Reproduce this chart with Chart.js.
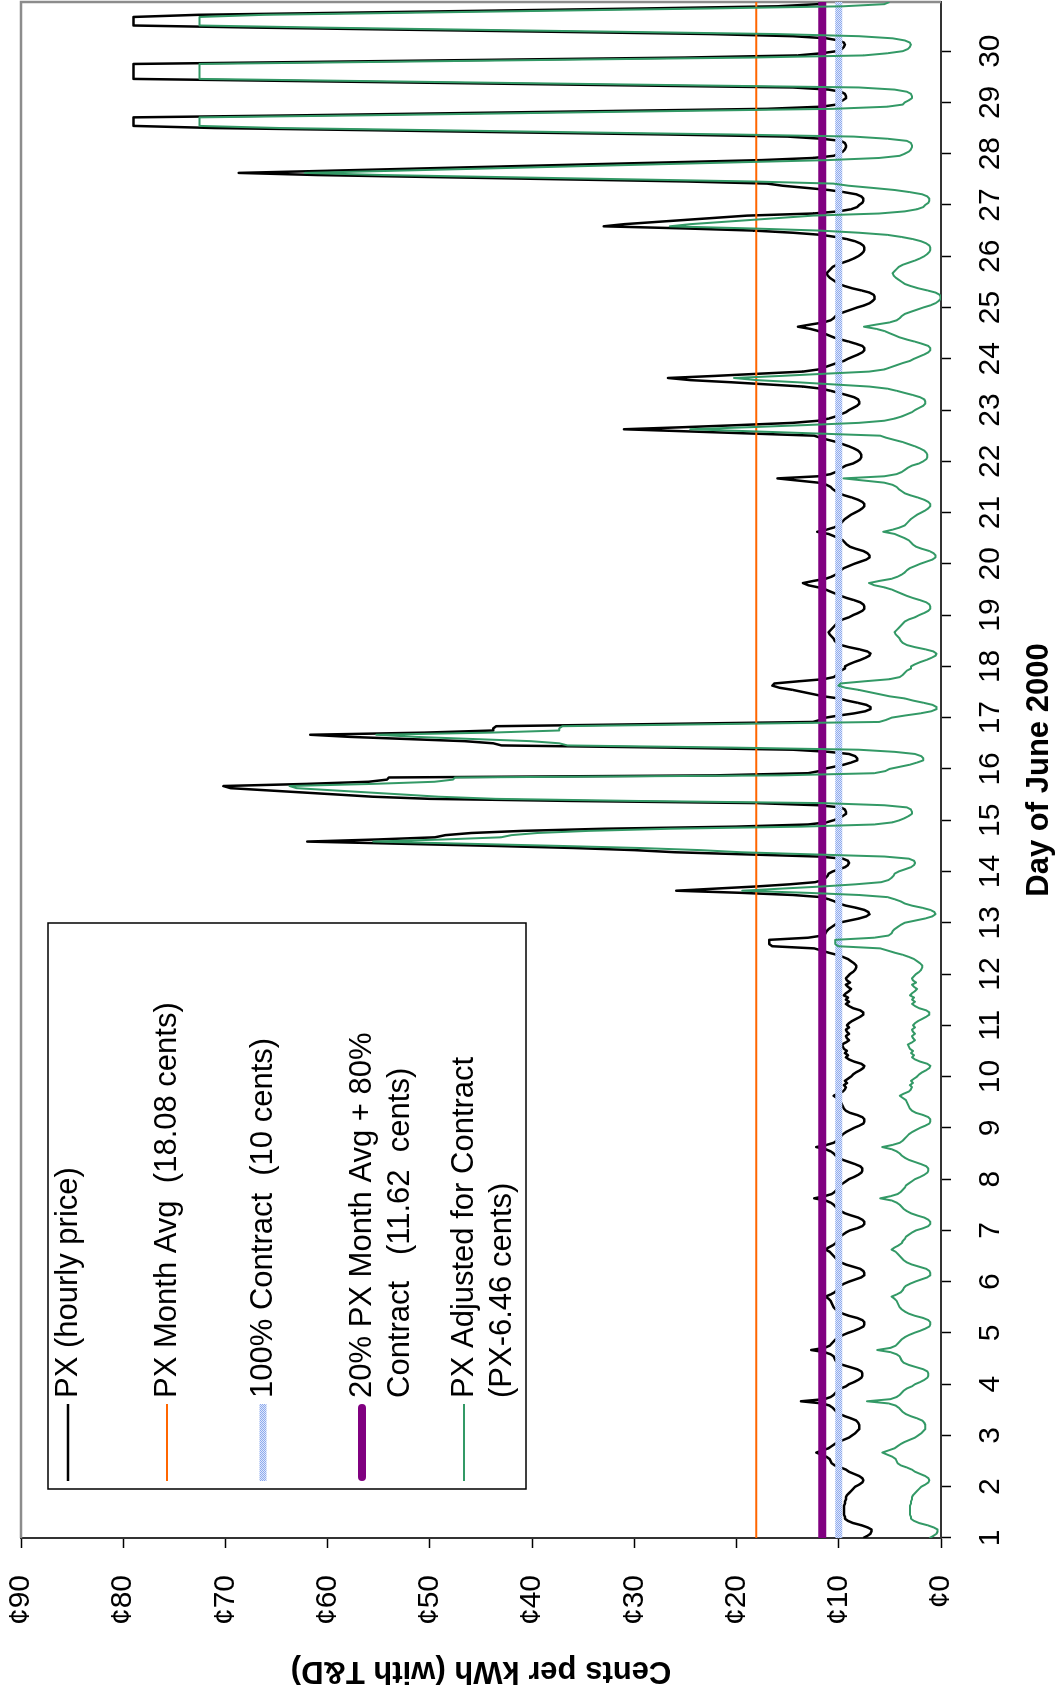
<!DOCTYPE html>
<html><head><meta charset="utf-8">
<script src="https://cdn.jsdelivr.net/npm/chart.js@4.4.1/dist/chart.umd.min.js"></script>
<style>
html,body{margin:0;padding:0;background:#fff;overflow:hidden;width:1060px;height:1695px;}
#wrap{position:absolute;left:0;top:0;width:1695px;height:1060px;transform-origin:0 0;transform:rotate(-90deg) translate(-1695px,0);background:#fff;}
canvas{display:block;}
</style></head><body>
<div id="wrap"><canvas id="c" width="1695" height="1060"></canvas></div>
<script>
// ---- data ----
const dayLabels = ['1','2','3','4','5','6','7','8','9','10','11','12','13','14','15','16','17','18','19','20','21','22','23','24','25','26','27','28','29','30'];
const dayTicks = [1,2,3,4,5,6,7,8,9,10,11,12,13,14,15,16,17,18,19,20,21,22,23,24,25,26,27,28,29,30];
const centTicks = [0,10,20,30,40,50,60,70,80,90];
const monthAvg = 18.08;
const contract100 = 10;
const blend2080 = 11.62;
const seriesNames = ['PX (hourly price)','PX Month Avg  (18.08 cents)','100% Contract  (10 cents)','20% PX Month Avg + 80%|Contract   (11.62  cents)','PX Adjusted for Contract|(PX-6.46 cents)'];

// PX hourly price (cents/kWh with T&D), 24 values per day, June 1..30
const pxHourly = [
7.6,7.2,6.9,6.8,6.8,7.2,7.8,8.6,9.1,9.4,9.4,9.5,9.5,9.5,9.5,9.5,9.4,9.4,9.3,9.3,9.2,9.0,8.8,8.6,
8.4,8.0,7.7,7.6,7.7,8.0,8.5,9.0,9.3,9.8,10.4,10.7,10.8,10.9,11.2,11.7,12.2,11.6,11.0,10.7,10.4,10.0,9.5,9.0,
8.7,8.4,8.2,8.0,8.0,8.0,8.1,8.3,8.8,9.4,9.9,10.2,10.4,10.6,10.9,11.6,13.7,11.4,10.8,10.5,10.3,10.1,9.8,9.3,
9.0,8.5,8.1,7.8,7.7,7.7,7.8,8.2,8.9,9.6,10.1,10.3,10.4,10.5,10.8,11.4,12.7,11.4,10.9,10.7,10.5,10.3,10.0,9.6,
9.1,8.5,8.0,7.6,7.5,7.5,7.7,8.2,9.0,9.6,10.0,10.3,10.5,10.6,10.7,10.8,11.0,11.3,10.8,10.4,10.2,10.1,9.9,9.5,
9.0,8.4,7.8,7.5,7.5,7.6,7.9,8.6,9.3,9.8,10.1,10.3,10.5,10.7,10.9,11.3,11.0,10.6,10.3,10.2,10.0,9.9,9.6,9.3,
8.9,8.2,7.7,7.5,7.5,7.7,8.1,8.8,9.4,9.8,10.1,10.3,10.5,10.8,11.3,12.4,11.4,10.7,10.4,10.2,10.0,9.9,9.6,9.3,
9.0,8.5,8.1,7.8,7.7,7.7,7.9,8.4,9.0,9.6,10.0,10.3,10.5,10.8,11.3,12.2,11.2,10.5,10.2,10.0,9.8,9.6,9.3,8.9,
8.5,8.0,7.6,7.5,7.5,7.7,8.2,8.9,9.3,9.5,9.6,9.7,9.8,9.9,10.2,10.5,10.1,9.6,9.4,9.3,9.5,9.2,9.4,9.1,
8.8,8.6,8.3,7.9,7.6,7.5,7.8,8.5,9.0,9.3,9.1,9.4,9.2,9.5,9.6,9.7,9.3,9.0,9.2,9.3,9.0,9.2,9.3,9.0,
9.2,9.0,8.7,8.3,7.9,7.6,7.6,7.9,8.6,9.0,9.3,9.0,9.3,9.1,9.5,9.3,9.0,8.8,9.1,9.3,8.9,9.2,9.3,9.1,
8.9,8.6,8.4,8.3,8.3,8.5,8.8,9.1,9.6,10.2,11.0,11.7,12.4,16.5,16.8,16.8,16.8,13.0,11.6,11.3,11.2,11.0,10.7,10.4,
10.0,9.0,8.0,7.3,7.0,7.1,7.5,8.3,9.3,10.0,10.4,11.0,11.7,14.5,19.5,25.9,22.0,18.0,14.8,12.3,11.6,11.3,11.1,11.0,
10.6,10.0,9.4,9.1,9.0,9.1,9.6,12.0,19.0,26.0,30.0,36.0,44.0,53.0,62.0,55.0,49.5,48.5,46.0,41.0,33.0,20.0,13.0,11.2,
10.5,10.0,9.6,9.3,9.3,9.4,9.8,12.0,18.0,36.0,50.0,55.6,59.0,62.5,66.0,69.5,70.2,62.0,56.0,54.2,54.0,22.0,13.0,11.9,
11.5,10.5,9.5,8.8,8.2,8.2,8.4,9.0,11.0,14.5,27.0,43.0,43.8,46.6,52.2,57.8,61.7,50.5,43.8,43.8,43.5,28.0,12.5,11.8,
11.3,10.0,8.5,7.4,6.9,6.9,7.3,8.2,9.2,10.0,11.5,12.5,13.5,14.5,15.8,16.5,16.3,14.0,11.5,10.5,10.2,10.0,9.8,9.4,
9.4,9.0,8.5,7.9,7.4,7.0,6.9,7.2,8.0,9.0,9.8,10.2,10.4,10.5,10.7,10.9,11.0,10.8,10.6,10.4,10.2,10.0,9.6,9.0,
8.6,8.1,7.7,7.5,7.5,7.6,7.9,8.5,9.2,9.8,10.3,10.8,11.3,12.0,13.0,13.5,12.5,11.3,10.7,10.3,10.0,9.8,9.5,9.0,
8.5,7.9,7.3,7.0,7.0,7.2,7.6,8.3,8.9,9.2,9.4,9.6,10.0,10.5,11.0,12.1,11.2,10.5,10.0,9.8,9.6,9.4,9.1,8.8,
8.4,8.0,7.7,7.5,7.5,7.7,8.1,8.7,9.4,10.0,10.3,10.6,10.8,11.2,12.0,14.0,16.0,12.0,10.8,10.3,10.0,9.7,9.3,8.6,
8.2,7.9,7.8,7.8,7.9,8.1,8.5,9.0,9.6,10.2,11.0,11.8,12.4,18.5,24.7,31.0,25.0,19.5,14.5,12.0,11.0,10.3,9.8,9.3,
9.0,8.6,8.2,8.0,8.0,8.1,8.5,9.2,10.0,10.8,11.7,13.5,17.0,20.5,24.5,26.7,22.0,17.8,13.5,12.0,11.4,10.8,10.2,9.5,
9.1,8.6,8.1,7.7,7.5,7.5,7.7,8.3,9.0,9.8,10.5,11.0,11.5,12.0,12.8,14.0,12.8,11.5,10.8,10.5,10.3,10.0,9.4,8.8,
8.2,7.5,7.0,6.7,6.5,6.5,6.6,7.0,7.8,8.7,9.4,10.0,10.3,10.6,10.9,11.1,11.2,11.0,10.8,10.6,10.2,9.6,9.0,8.5,
8.1,7.8,7.6,7.5,7.5,7.6,7.9,8.4,9.2,10.3,11.7,14.5,18.3,25.0,33.0,31.0,28.0,25.0,22.0,19.0,12.5,10.0,8.8,8.2,
8.0,7.7,7.6,7.6,7.8,8.3,9.5,11.0,13.2,15.5,17.0,25.0,37.0,49.0,61.0,68.7,60.0,51.5,43.0,34.5,26.0,17.5,12.5,10.5,
10.0,9.6,9.4,9.3,9.3,9.4,9.8,11.7,15.0,27.0,42.0,56.0,71.0,79.0,79.0,79.0,79.0,79.0,62.0,47.0,32.0,17.0,11.7,10.2,
10.0,9.6,9.3,9.3,9.4,9.8,11.0,14.5,31.0,47.0,63.0,79.0,79.0,79.0,79.0,79.0,79.0,79.0,79.0,60.8,43.0,25.0,14.0,11.7,
10.2,9.7,9.5,9.4,9.5,10.0,11.2,14.5,22.6,37.0,52.0,66.8,79.0,79.0,79.0,79.0,79.0,72.7,58.0,43.4,28.7,16.0,12.0,11.5
];

// PX adjusted for contract (PX - 6.46 cents), 24 values per day
const pxAdjusted = [
1.14,0.74,0.44,0.34,0.34,0.74,1.34,2.14,2.64,2.94,2.94,3.04,3.04,3.04,3.04,3.04,2.94,2.94,2.84,2.84,2.74,2.54,2.34,2.14,
1.94,1.54,1.24,1.14,1.24,1.54,2.04,2.54,2.84,3.34,3.94,4.24,4.34,4.44,4.74,5.24,5.74,5.14,4.54,4.24,3.94,3.54,3.04,2.54,
2.24,1.94,1.74,1.54,1.54,1.54,1.64,1.84,2.34,2.94,3.44,3.74,3.94,4.14,4.44,5.14,7.24,4.94,4.34,4.04,3.84,3.64,3.34,2.84,
2.54,2.04,1.64,1.34,1.24,1.24,1.34,1.74,2.44,3.14,3.64,3.84,3.94,4.04,4.34,4.94,6.24,4.94,4.44,4.24,4.04,3.84,3.54,3.14,
2.64,2.04,1.54,1.14,1.04,1.04,1.24,1.74,2.54,3.14,3.54,3.84,4.04,4.14,4.24,4.34,4.54,4.84,4.34,3.94,3.74,3.64,3.44,3.04,
2.54,1.94,1.34,1.04,1.04,1.14,1.44,2.14,2.84,3.34,3.64,3.84,4.04,4.24,4.44,4.84,4.54,4.14,3.84,3.74,3.54,3.44,3.14,2.84,
2.44,1.74,1.24,1.04,1.04,1.24,1.64,2.34,2.94,3.34,3.64,3.84,4.04,4.34,4.84,5.94,4.94,4.24,3.94,3.74,3.54,3.44,3.14,2.84,
2.54,2.04,1.64,1.34,1.24,1.24,1.44,1.94,2.54,3.14,3.54,3.84,4.04,4.34,4.84,5.74,4.74,4.04,3.74,3.54,3.34,3.14,2.84,2.44,
2.04,1.54,1.14,1.04,1.04,1.24,1.74,2.44,2.84,3.04,3.14,3.24,3.34,3.44,3.74,4.04,3.64,3.14,2.94,2.84,3.04,2.74,2.94,2.64,
2.34,2.14,1.84,1.44,1.14,1.04,1.34,2.04,2.54,2.84,2.64,2.94,2.74,3.04,3.14,3.24,2.84,2.54,2.74,2.84,2.54,2.74,2.84,2.54,
2.74,2.54,2.24,1.84,1.44,1.14,1.14,1.44,2.14,2.54,2.84,2.54,2.84,2.64,3.04,2.84,2.54,2.34,2.64,2.84,2.44,2.74,2.84,2.64,
2.44,2.14,1.94,1.84,1.84,2.04,2.34,2.64,3.14,3.74,4.54,5.24,5.94,10.04,10.34,10.34,10.34,6.54,5.14,4.84,4.74,4.54,4.24,3.94,
3.54,2.54,1.54,0.84,0.54,0.64,1.04,1.84,2.84,3.54,3.94,4.54,5.24,8.04,13.04,19.44,15.54,11.54,8.34,5.84,5.14,4.84,4.64,4.54,
4.14,3.54,2.94,2.64,2.54,2.64,3.14,5.54,12.54,19.54,23.54,29.54,37.54,46.54,55.54,48.54,43.04,42.04,39.54,34.54,26.54,13.54,6.54,4.74,
4.04,3.54,3.14,2.84,2.84,2.94,3.34,5.54,11.54,29.54,43.54,49.14,52.54,56.04,59.54,63.04,63.74,55.54,49.54,47.74,47.54,15.54,6.54,5.44,
5.04,4.04,3.04,2.34,1.74,1.74,1.94,2.54,4.54,8.04,20.54,36.54,37.34,40.14,45.74,51.34,55.24,44.04,37.34,37.34,37.04,21.54,6.04,5.34,
4.84,3.54,2.04,0.94,0.44,0.44,0.84,1.74,2.74,3.54,5.04,6.04,7.04,8.04,9.34,10.04,9.84,7.54,5.04,4.04,3.74,3.54,3.34,2.94,
2.94,2.54,2.04,1.44,0.94,0.54,0.44,0.74,1.54,2.54,3.34,3.74,3.94,4.04,4.24,4.44,4.54,4.34,4.14,3.94,3.74,3.54,3.14,2.54,
2.14,1.64,1.24,1.04,1.04,1.14,1.44,2.04,2.74,3.34,3.84,4.34,4.84,5.54,6.54,7.04,6.04,4.84,4.24,3.84,3.54,3.34,3.04,2.54,
2.04,1.44,0.84,0.54,0.54,0.74,1.14,1.84,2.44,2.74,2.94,3.14,3.54,4.04,4.54,5.64,4.74,4.04,3.54,3.34,3.14,2.94,2.64,2.34,
1.94,1.54,1.24,1.04,1.04,1.24,1.64,2.24,2.94,3.54,3.84,4.14,4.34,4.74,5.54,7.54,9.54,5.54,4.34,3.84,3.54,3.24,2.84,2.14,
1.74,1.44,1.34,1.34,1.44,1.64,2.04,2.54,3.14,3.74,4.54,5.34,5.94,12.04,18.24,24.54,18.54,13.04,8.04,5.54,4.54,3.84,3.34,2.84,
2.54,2.14,1.74,1.54,1.54,1.64,2.04,2.74,3.54,4.34,5.24,7.04,10.54,14.04,18.04,20.24,15.54,11.34,7.04,5.54,4.94,4.34,3.74,3.04,
2.64,2.14,1.64,1.24,1.04,1.04,1.24,1.84,2.54,3.34,4.04,4.54,5.04,5.54,6.34,7.54,6.34,5.04,4.34,4.04,3.84,3.54,2.94,2.34,
1.74,1.04,0.54,0.24,0.04,0.04,0.14,0.54,1.34,2.24,2.94,3.54,3.84,4.14,4.44,4.64,4.74,4.54,4.34,4.14,3.74,3.14,2.54,2.04,
1.64,1.34,1.14,1.04,1.04,1.14,1.44,1.94,2.74,3.84,5.24,8.04,11.84,18.54,26.54,24.54,21.54,18.54,15.54,12.54,6.04,3.54,2.34,1.74,
1.54,1.24,1.14,1.14,1.34,1.84,3.04,4.54,6.74,9.04,10.54,18.54,30.54,42.54,54.54,62.24,53.54,45.04,36.54,28.04,19.54,11.04,6.04,4.04,
3.54,3.14,2.94,2.84,2.84,2.94,3.34,5.24,8.54,20.54,35.54,49.54,64.54,72.54,72.54,72.54,72.54,72.54,55.54,40.54,25.54,10.54,5.24,3.74,
3.54,3.14,2.84,2.84,2.94,3.34,4.54,8.04,24.54,40.54,56.54,72.54,72.54,72.54,72.54,72.54,72.54,72.54,72.54,54.34,36.54,18.54,7.54,5.24,
3.74,3.24,3.04,2.94,3.04,3.54,4.74,8.04,16.14,30.54,45.54,60.34,72.54,72.54,72.54,72.54,72.54,66.24,51.54,36.94,22.24,9.54,5.54,5.04
];

// ---- build ----
const FONT = "'Liberation Sans', Arial, Helvetica, sans-serif";
Chart.defaults.font.family = FONT;
Chart.defaults.color = '#000';

const hoursPerDay = 24;
const dayPos = i => dayTicks[0] + i / hoursPerDay;
const xMin = dayTicks[0];
const xMax = dayPos(pxHourly.length - 1);
const pxData = pxHourly.map((v, i) => ({x: dayPos(i), y: v}));
const adjData = pxAdjusted.map((v, i) => ({x: dayPos(i), y: v}));
const flatLine = v => [{x: xMin, y: v}, {x: xMax, y: v}];

// checkered light-blue pattern for the "100% Contract" line
function makePattern() {
  const p = document.createElement('canvas');
  p.width = 2; p.height = 2;
  const g = p.getContext('2d');
  g.fillStyle = '#dfe8fb'; g.fillRect(0, 0, 2, 2);
  g.fillStyle = '#8eaaee'; g.fillRect(0, 0, 1, 1); g.fillRect(1, 1, 1, 1);
  return g.createPattern(p, 'repeat');
}
const bluePattern = makePattern();

const COLORS = ['#000000', '#ff6600', bluePattern, '#800080', '#339966'];
const WIDTHS = [2.5, 2, 7, 8, 2];

const frameBorder = {
  id: 'frameBorder',
  beforeDatasetsDraw(chart) {
    const {ctx, chartArea: a} = chart;
    ctx.save();
    ctx.strokeStyle = '#8c8c8c';
    ctx.lineWidth = 2.5;
    ctx.beginPath();
    ctx.moveTo(a.left, a.top); ctx.lineTo(a.right, a.top); ctx.lineTo(a.right, a.bottom);
    ctx.stroke();
    ctx.restore();
  }
};

const boxLegend = {
  id: 'boxLegend',
  afterDraw(chart) {
    const ctx = chart.ctx;
    const bx = 206, by = 48, bw = 566, bh = 478;
    ctx.save();
    ctx.fillStyle = '#fff';
    ctx.fillRect(bx, by, bw, bh);
    ctx.strokeStyle = '#000';
    ctx.lineWidth = 1.5;
    ctx.strokeRect(bx, by, bw, bh);
    const rows = [68, 167, 263, 362, 464];
    ctx.font = '31px ' + FONT;
    ctx.textBaseline = 'middle';
    ctx.textAlign = 'left';
    seriesNames.forEach((name, k) => {
      const y = rows[k];
      ctx.beginPath();
      ctx.strokeStyle = COLORS[k];
      ctx.lineWidth = WIDTHS[k];
      ctx.lineCap = k === 3 ? 'round' : 'butt';
      ctx.moveTo(214 + (k === 3 ? 4 : 0), y);
      ctx.lineTo(291 - (k === 3 ? 4 : 0), y);
      ctx.stroke();
      ctx.fillStyle = '#000';
      name.split('|').forEach((line, j) => ctx.fillText(line, 297, y + j * 38));
    });
    ctx.restore();
  }
};

new Chart(document.getElementById('c'), {
  type: 'line',
  data: {
    datasets: [
      {label: seriesNames[0], data: pxData, borderColor: COLORS[0], borderWidth: WIDTHS[0], order: 5},
      {label: seriesNames[1], data: flatLine(monthAvg), borderColor: COLORS[1], borderWidth: WIDTHS[1], order: 4},
      {label: seriesNames[2], data: flatLine(contract100), borderColor: COLORS[2], borderWidth: WIDTHS[2], order: 3},
      {label: seriesNames[3], data: flatLine(blend2080), borderColor: COLORS[3], borderWidth: WIDTHS[3], order: 2},
      {label: seriesNames[4], data: adjData, borderColor: COLORS[4], borderWidth: WIDTHS[4], order: 1}
    ]
  },
  options: {
    responsive: false,
    animation: false,
    events: [],
    layout: {padding: {left: 0, right: 2, top: 21, bottom: 0}},
    elements: {point: {radius: 0}, line: {tension: 0, borderJoinStyle: 'round', borderCapStyle: 'butt'}},
    plugins: {legend: {display: false}, tooltip: {enabled: false}},
    scales: {
      x: {
        type: 'linear',
        min: xMin,
        max: xMax,
        afterFit: s => { s.height = 119; s.paddingLeft = 0; s.paddingRight = 0; },
        afterBuildTicks: s => { s.ticks = dayTicks.map(v => ({value: v})); },
        ticks: {
          autoSkip: false, maxRotation: 0, minRotation: 0, padding: 22,
          font: {size: 30},
          callback: (v, i) => dayLabels[i]
        },
        grid: {drawOnChartArea: false, drawTicks: true, tickLength: 10, tickColor: '#000', tickWidth: 1.5},
        border: {display: true, color: '#333', width: 2},
        title: {display: true, text: 'Day of June 2000', font: {size: 31, weight: 'bold'}, padding: {top: 0, bottom: 2}}
      },
      y: {
        type: 'linear',
        min: 0,
        max: 90,
        afterFit: s => { s.width = 157; s.paddingTop = 0; s.paddingBottom = 0; },
        afterBuildTicks: s => { s.ticks = centTicks.map(v => ({value: v})); },
        ticks: {
          padding: 27,
          font: {size: 30},
          callback: v => '\u00a2' + v
        },
        grid: {drawOnChartArea: false, drawTicks: true, tickLength: 10, tickColor: '#000', tickWidth: 1.5},
        border: {display: true, color: '#333', width: 2},
        title: {display: true, text: 'Cents per kWh (with T&D)', font: {size: 31, weight: 'bold'}, padding: {top: 6, bottom: 0}}
      }
    }
  },
  plugins: [frameBorder, boxLegend]
});
</script>
</body></html>
